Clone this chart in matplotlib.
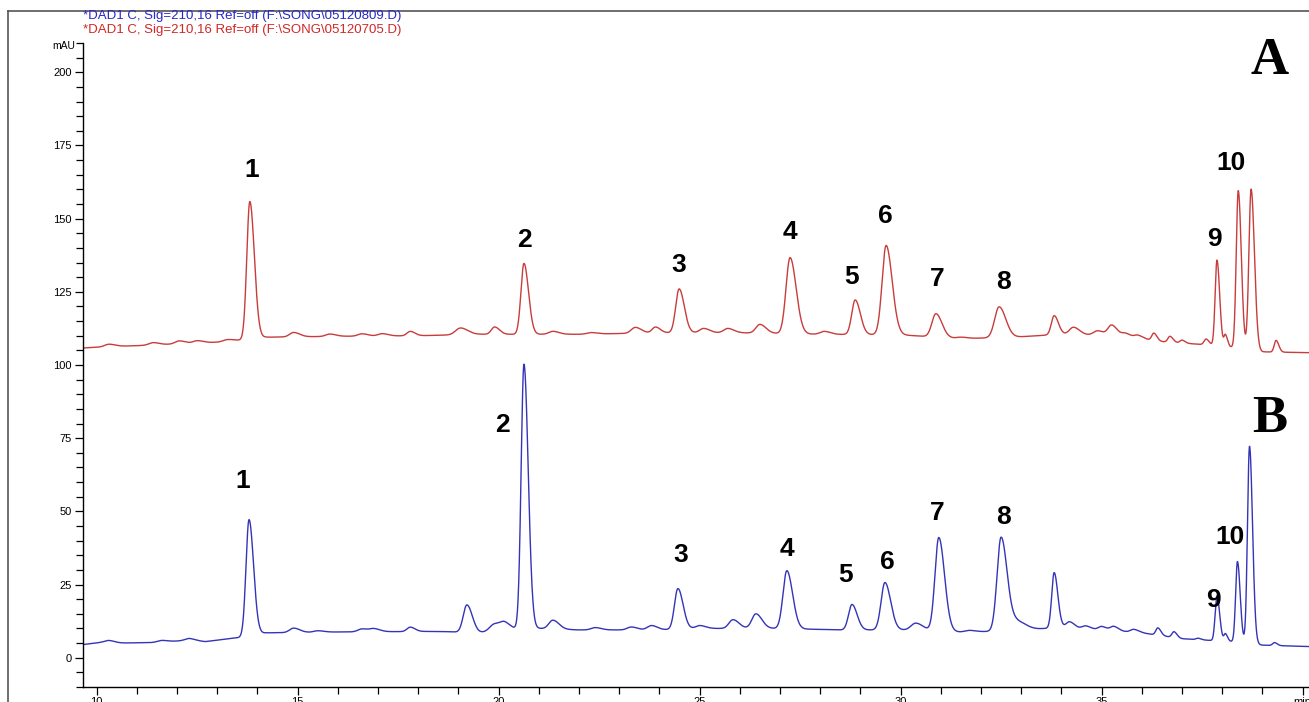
import numpy as np
import matplotlib.pyplot as plt
from matplotlib.lines import Line2D
from matplotlib.ticker import MultipleLocator, FixedLocator

# ── 1. Data (time in min, signal in mAU) ──
# trace A (red, upper)
a_base_t = [9.66, 10.3, 11.0, 12.0, 13.0, 13.6, 14.2, 16.0, 18.0, 19.5, 20.3, 22.0, 24.0,
            26.0, 28.0, 30.0, 31.5, 32.8, 34.0, 35.5, 36.5, 37.5, 38.3, 39.0, 40.2]
a_base_y = [105.8, 106.3, 106.6, 107.2, 107.8, 108.5, 109.5, 109.8, 110.0, 110.5, 110.5, 110.5, 111.0,
            111.0, 110.5, 110.3, 109.0, 109.5, 110.5, 110.0, 108.0, 107.0, 106.0, 104.5, 104.2]
a_peak_t = [10.3, 11.4, 12.05, 12.5, 13.25, 13.81, 14.9, 15.8, 16.6, 17.1, 17.8, 19.05, 19.9,
            20.63, 21.35, 22.3, 23.4, 23.9,
            24.49, 25.1, 25.7, 26.5, 27.25, 28.1, 28.87, 29.64, 30.88, 31.5, 32.45, 33.82,
            34.3, 34.9, 35.25, 35.6, 35.9, 36.3, 36.7, 37.0, 37.6, 37.87, 38.08, 38.4, 38.72, 39.34]
a_peak_h = [0.8, 0.8, 1.0, 0.8, 0.6, 47.0, 1.5, 0.8, 0.8, 0.8, 1.5, 2.3, 2.5,
            24.2, 1.0, 0.5, 2.0, 2.0,
            15.0, 1.5, 1.5, 3.0, 26.0, 1.0, 11.8, 30.5, 8.0, 0.5, 10.5, 6.5,
            2.5, 1.5, 3.5, 1.0, 1.0, 2.5, 2.0, 1.0, 2.0, 29.3, 4.0, 53.8, 55.0, 4.0]
a_peak_w = [0.1, 0.1, 0.1, 0.1, 0.1, 0.075, 0.1, 0.1, 0.1, 0.1, 0.08, 0.12, 0.08,
            0.075, 0.1, 0.1, 0.1, 0.08,
            0.085, 0.1, 0.1, 0.1, 0.1, 0.1, 0.085, 0.1, 0.1, 0.1, 0.11, 0.07,
            0.1, 0.1, 0.09, 0.08, 0.08, 0.05, 0.05, 0.05, 0.05, 0.045, 0.035, 0.05, 0.055, 0.045]

# trace B (blue, lower)
b_base_t = [9.66, 10.1, 10.5, 11.5, 12.3, 12.7, 13.3, 13.6, 14.2, 16.0, 18.5, 19.5, 20.2,
            21.0, 22.0, 24.0, 25.0, 27.0, 28.5, 30.0, 31.5, 32.3, 33.2, 34.0, 35.0,
            36.0, 37.0, 37.6, 38.3, 39.0, 40.2]
b_base_y = [4.5, 5.2, 5.0, 5.2, 6.0, 5.5, 6.5, 7.0, 8.5, 8.8, 9.0, 8.5, 9.5,
            10.0, 9.5, 9.5, 10.0, 10.0, 9.5, 9.5, 8.8, 9.0, 9.5, 10.5, 9.5,
            8.5, 6.5, 6.0, 5.5, 4.3, 3.8]
b_peak_t = [10.3, 11.6, 12.3, 13.79, 14.9, 15.5, 16.6, 16.9, 17.8, 19.21, 19.9, 20.15, 20.63,
            21.35, 22.4, 23.3,
            23.8, 24.46, 25.0, 25.83, 26.4, 27.17, 28.79, 29.61, 30.38, 30.95, 31.7, 32.5,
            32.9, 33.82, 34.2, 34.6, 35.0, 35.3, 35.8, 36.4, 36.8, 37.4, 37.87, 38.08,
            38.38, 38.68, 39.3]
b_peak_h = [0.8, 0.6, 0.6, 39.7, 1.5, 0.5, 1.0, 1.0, 1.5, 9.4, 2.5, 2.0, 90.5,
            3.0, 0.8, 1.0,
            1.5, 13.9, 1.0, 3.0, 5.0, 19.8, 8.7, 16.2, 2.5, 32.0, 0.5, 32.0,
            3.0, 18.8, 2.0, 1.0, 1.2, 1.5, 1.0, 2.5, 2.0, 0.5, 15.3, 2.5,
            27.5, 67.4, 1.0]
b_peak_w = [0.1, 0.1, 0.1, 0.075, 0.1, 0.1, 0.1, 0.1, 0.08, 0.09, 0.12, 0.1, 0.07,
            0.1, 0.1, 0.1,
            0.1, 0.085, 0.1, 0.1, 0.1, 0.095, 0.085, 0.095, 0.12, 0.095, 0.1, 0.1,
            0.15, 0.06, 0.08, 0.08, 0.08, 0.08, 0.08, 0.05, 0.05, 0.05, 0.045, 0.035,
            0.045, 0.05, 0.045]

# peak numbers
a_lab_text = ["1", "2", "3", "4", "5", "6", "7", "8", "9", "10"]
a_lab_t = [13.86, 20.63, 24.49, 27.25, 28.79, 29.61, 30.9, 32.55, 37.8, 38.23]
a_lab_y = [166.5, 142.7, 134.0, 145.4, 130.0, 151.0, 129.4, 128.4, 143.0, 168.9]
b_lab_text = ["1", "2", "3", "4", "5", "6", "7", "8", "9", "10"]
b_lab_t = [13.64, 20.1, 24.52, 27.17, 28.64, 29.68, 30.9, 32.55, 37.78, 38.19]
b_lab_y = [60.5, 79.6, 35.0, 37.3, 28.1, 32.6, 49.3, 48.0, 19.6, 41.4]

TAIL = 1.5  # right-hand side of each peak is wider (tailing)


def build_trace(t, base_t, base_y, pt, ph, pw):
    y = np.interp(t, base_t, base_y)
    for p, h, w in zip(pt, ph, pw):
        s = np.where(t < p, w, w * TAIL)
        y = y + h * np.exp(-0.5 * ((t - p) / s) ** 2)
    return y


t = np.linspace(9.66, 40.2, 6000)
trace_a = build_trace(t, a_base_t, a_base_y, a_peak_t, a_peak_h, a_peak_w)
trace_b = build_trace(t, b_base_t, b_base_y, b_peak_t, b_peak_h, b_peak_w)

# ── 2. Figure ─────────────────────────────────────────────────────
plt.rcParams["font.family"] = ["Liberation Sans", "DejaVu Sans"]
W, H = 1309, 702
fig = plt.figure(figsize=(W / 100, H / 100), dpi=100)
ax = fig.add_axes([83 / W, (H - 687) / H, (W - 83) / W, (687 - 43) / H])

red = "#c83c3c"
blue = "#3434b8"
ax.plot(t, trace_a, color=red, lw=1.0)
ax.plot(t, trace_b, color=blue, lw=1.0)

ax.set_xlim(9.66, 40.16)
ax.set_ylim(-10, 210)

for s in ["top", "right"]:
    ax.spines[s].set_visible(False)
for s in ["left", "bottom"]:
    ax.spines[s].set_linewidth(1.0)

ax.xaxis.set_major_locator(FixedLocator([10, 15, 20, 25, 30, 35, 40]))
ax.set_xticklabels(["10", "15", "20", "25", "30", "35", "min"])
ax.xaxis.set_minor_locator(MultipleLocator(1))
ax.yaxis.set_major_locator(FixedLocator([0, 25, 50, 75, 100, 125, 150, 175, 200]))
ax.yaxis.set_minor_locator(MultipleLocator(5))
ax.tick_params(axis="both", which="both", direction="out", labelsize=8, width=0.9)
ax.tick_params(axis="both", which="major", length=6, pad=2)
ax.tick_params(axis="both", which="minor", length=5)
ax.tick_params(axis="x", pad=1)
ax.text(-0.006, 209, "mAU", transform=ax.get_yaxis_transform(), ha="right",
        va="center", fontsize=7.5)

# peak numbers
for lab, x, y in zip(a_lab_text, a_lab_t, a_lab_y):
    ax.text(x, y, lab, ha="center", va="center", fontsize=19, fontweight="bold")
for lab, x, y in zip(b_lab_text, b_lab_t, b_lab_y):
    ax.text(x, y, lab, ha="center", va="center", fontsize=19, fontweight="bold")

# panel letters
ax.text(39.19, 203.7, "A", ha="center", va="center", fontsize=38,
        fontweight="bold", family="Liberation Serif")
ax.text(39.19, 81.7, "B", ha="center", va="center", fontsize=38,
        fontweight="bold", family="Liberation Serif")

# header lines
fig.text(83 / W, 1 - 16 / H, r"*DAD1 C, Sig=210,16 Ref=off (F:\SONG\05120809.D)",
         color="#2828c8", fontsize=9.5, va="center", ha="left")
fig.text(83 / W, 1 - 30 / H, r"*DAD1 C, Sig=210,16 Ref=off (F:\SONG\05120705.D)",
         color="#d02828", fontsize=9.5, va="center", ha="left")

# outer frame (left and top edge)
fig.add_artist(Line2D([8 / W, 8 / W], [0, 1 - 11 / H], transform=fig.transFigure,
                      color="#555555", lw=1.2))
fig.add_artist(Line2D([8 / W, 1], [1 - 11 / H, 1 - 11 / H], transform=fig.transFigure,
                      color="#555555", lw=1.2))

fig.savefig("out.png", dpi=100)
